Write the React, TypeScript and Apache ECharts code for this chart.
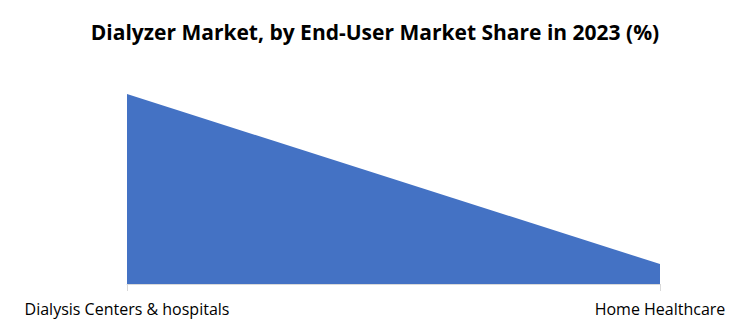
import React, { useEffect, useRef } from "react";
import * as echarts from "echarts";

const titleText = "Dialyzer Market, by End-User Market Share in 2023 (%)";
const categories = ["Dialysis Centers & hospitals", "Home Healthcare"];
const shareValues = [90.5, 9.5];

export default function App() {
  const ref = useRef<HTMLDivElement>(null);
  useEffect(() => {
    if (!ref.current) return;
    const chart = echarts.init(ref.current, undefined, { renderer: "svg" });
    chart.setOption({
      animation: false,
      backgroundColor: "#ffffff",
      title: {
        text: titleText,
        left: "center",
        top: 16,
        textStyle: {
          fontFamily: "Open Sans",
          fontWeight: "bold",
          fontSize: 21,
          color: "#000000",
        },
      },
      grid: { left: 127, right: 90, top: 94, bottom: 50 },
      xAxis: {
        type: "category",
        data: categories,
        boundaryGap: false,
        axisLine: { show: true, lineStyle: { color: "#d9d9d9", width: 1 } },
        axisTick: { show: true, length: 7, lineStyle: { color: "#d9d9d9" } },
        axisLabel: {
          color: "#000000",
          fontFamily: "Open Sans",
          fontSize: 16,
          margin: 17,
          interval: 0,
        },
        splitLine: { show: false },
      },
      yAxis: {
        type: "value",
        min: 0,
        max: 90.5,
        show: false,
        splitLine: { show: false },
      },
      series: [
        {
          type: "line",
          data: shareValues,
          symbol: "none",
          lineStyle: { width: 0 },
          areaStyle: { color: "#4472c4", opacity: 1 },
          itemStyle: { color: "#4472c4" },
        },
      ],
    });
    return () => chart.dispose();
  }, []);
  return <div ref={ref} style={{ width: 750, height: 334, margin: -8 }} />;
}
